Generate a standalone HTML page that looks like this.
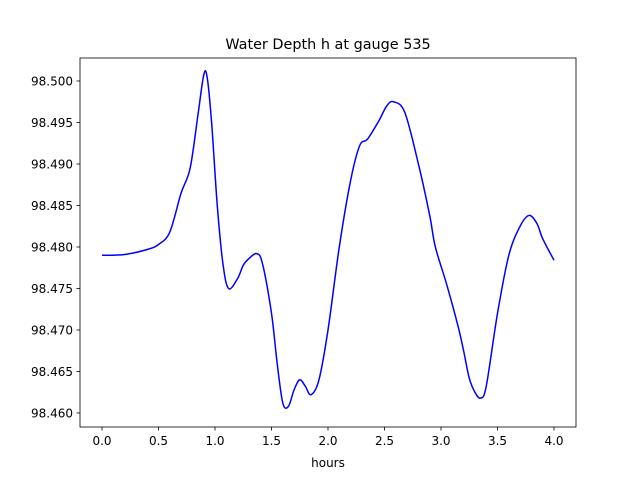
<!DOCTYPE html>
<html><head><meta charset="utf-8"><style>
body{margin:0;background:#fff;}
svg text{font-family:"DejaVu Sans","Liberation Sans",sans-serif;fill:#000;}
</style></head><body>
<svg id="chart" width="640" height="480" viewBox="0 0 640 480">
<rect width="640" height="480" fill="#fff"/>
<text x="328" y="49" font-size="14.4" text-anchor="middle">Water Depth h at gauge 535</text>
<g id="grid"></g>
<path id="line" fill="none" stroke="#0000ff" stroke-width="1.5"/>
<rect x="80" y="58" width="496" height="369" fill="none" stroke="#000" stroke-width="0.8"/>
<text x="328" y="467" font-size="12" text-anchor="middle">hours</text>
</svg>
<script>
const hours=[0.0,0.2,0.4,0.5,0.6,0.7,0.78,0.85,0.9,0.93,0.97,1.02,1.07,1.12,1.2,1.25,1.3,1.37,1.42,1.5,1.55,1.6,1.65,1.7,1.75,1.8,1.85,1.92,2.0,2.1,2.2,2.28,2.35,2.45,2.52,2.58,2.68,2.8,2.9,2.95,3.05,3.15,3.2,3.25,3.3,3.35,3.4,3.5,3.6,3.7,3.78,3.85,3.9,4.0];
const depth=[98.4790,98.4791,98.4797,98.4803,98.4818,98.4865,98.4895,98.4960,98.5007,98.5005,98.4950,98.4850,98.4780,98.4750,98.4762,98.4778,98.4786,98.4792,98.4780,98.4720,98.4660,98.4612,98.4608,98.4628,98.4640,98.4632,98.4622,98.4640,98.4700,98.4800,98.4880,98.4922,98.4930,98.4952,98.4970,98.4975,98.4962,98.4900,98.4838,98.4800,98.4755,98.4705,98.4675,98.4642,98.4625,98.4618,98.4632,98.4720,98.4790,98.4825,98.4838,98.4828,98.4810,98.4784];
const xTicks=[0.0,0.5,1.0,1.5,2.0,2.5,3.0,3.5,4.0];
const xTickLabels=["0.0","0.5","1.0","1.5","2.0","2.5","3.0","3.5","4.0"];
const yTicks=[98.460,98.465,98.470,98.475,98.480,98.485,98.490,98.495,98.500];
const yTickLabels=["98.460","98.465","98.470","98.475","98.480","98.485","98.490","98.495","98.500"];

const X0=80,X1=576,Y0=58,Y1=427;
const xmin=-0.1947,xmax=4.1947,ymin=98.45831,ymax=98.50277;
const sx=v=>X0+(v-xmin)/(xmax-xmin)*(X1-X0);
const sy=v=>Y1-(v-ymin)/(ymax-ymin)*(Y1-Y0);
const NS="http://www.w3.org/2000/svg";
const g=document.getElementById('grid');
xTicks.forEach((t,i)=>{
  const l=document.createElementNS(NS,'line');
  
  
  l.setAttribute('x1',sx(t));l.setAttribute('x2',sx(t));l.setAttribute('y1',Y1);l.setAttribute('y2',Y1+3.5);
  l.setAttribute('stroke','#000');l.setAttribute('stroke-width','0.8');g.appendChild(l);
  const tx=document.createElementNS(NS,'text');
  
  
  tx.setAttribute('x',sx(t));tx.setAttribute('y',Y1+18);tx.setAttribute('font-size','12');tx.setAttribute('text-anchor','middle');
  tx.textContent=xTickLabels[i];g.appendChild(tx);
});
yTicks.forEach((t,i)=>{
  const l=document.createElementNS(NS,'line');
  
  
  l.setAttribute('x1',X0-3.5);l.setAttribute('x2',X0);l.setAttribute('y1',sy(t));l.setAttribute('y2',sy(t));
  l.setAttribute('stroke','#000');l.setAttribute('stroke-width','0.8');g.appendChild(l);
  const tx=document.createElementNS(NS,'text');
  
  
  tx.setAttribute('x',X0-7);tx.setAttribute('y',sy(t)+4.5);tx.setAttribute('font-size','12');tx.setAttribute('text-anchor','end');
  tx.textContent=yTickLabels[i];g.appendChild(tx);
});
const P=hours.map((h,i)=>[sx(h),sy(depth[i])]);
let d='M'+P[0][0]+','+P[0][1];
for(let i=0;i<P.length-1;i++){
  const p0=P[Math.max(0,i-1)],p1=P[i],p2=P[i+1],p3=P[Math.min(P.length-1,i+2)];
  const c1=[p1[0]+(p2[0]-p0[0])/6,p1[1]+(p2[1]-p0[1])/6];
  const c2=[p2[0]-(p3[0]-p1[0])/6,p2[1]-(p3[1]-p1[1])/6];
  d+=` C${c1[0]},${c1[1]} ${c2[0]},${c2[1]} ${p2[0]},${p2[1]}`;
}
document.getElementById('line').setAttribute('d',d);
</script>
</body></html>
